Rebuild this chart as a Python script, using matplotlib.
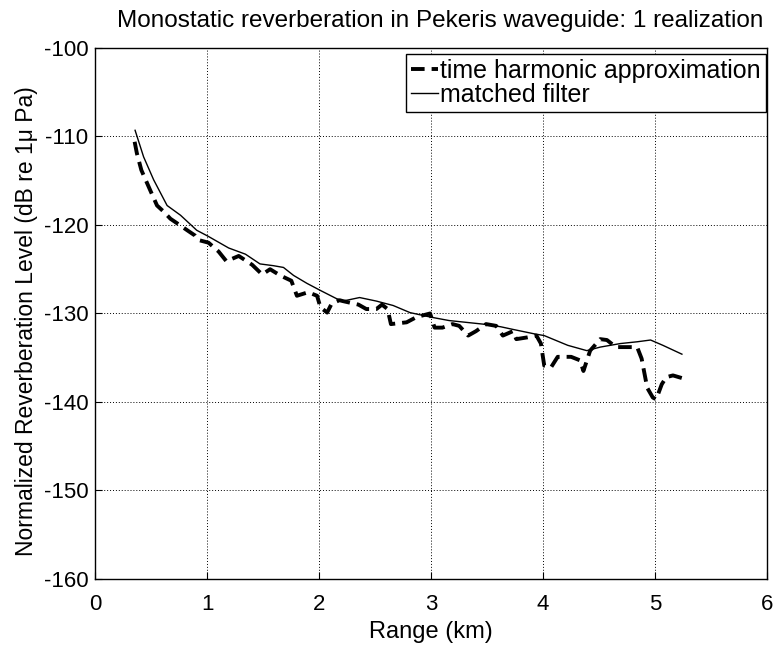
import matplotlib
matplotlib.use("Agg")
import matplotlib.pyplot as plt

plt.rcParams["font.family"] = ["Liberation Sans", "DejaVu Sans"]
plt.rcParams["axes.unicode_minus"] = False

# time harmonic approximation (dashed)
range_th = [0.35, 0.37, 0.41, 0.49, 0.55, 0.61, 0.67, 0.74, 0.82, 0.89, 0.92,
            1.01, 1.10, 1.17, 1.28, 1.40, 1.49, 1.56, 1.65, 1.75, 1.80, 1.90,
            1.98, 2.01, 2.07, 2.11, 2.18, 2.21, 2.35, 2.42, 2.51, 2.56, 2.61,
            2.64, 2.78, 2.87, 2.99, 3.03, 3.10, 3.19, 3.25, 3.33, 3.40, 3.49,
            3.58, 3.64, 3.73, 3.76, 3.86, 3.94, 3.98, 4.01, 4.07, 4.13, 4.25,
            4.33, 4.36, 4.42, 4.51, 4.57, 4.65, 4.75, 4.84, 4.88, 4.93, 4.98,
            5.01, 5.06, 5.10, 5.16, 5.24]
level_th = [-110.6, -111.9, -113.8, -116.1, -117.8, -118.5, -119.3, -119.9,
            -120.6, -121.2, -121.7, -122.0, -123.0, -124.1, -123.5, -124.5,
            -125.6, -125.0, -125.7, -126.3, -128.0, -127.6, -128.0, -129.3,
            -129.9, -128.9, -128.5, -128.6, -129.0, -129.5, -129.5, -129.0,
            -129.5, -131.2, -131.0, -130.4, -130.0, -131.6, -131.6, -131.2,
            -131.4, -132.5, -132.0, -131.2, -131.4, -132.5, -132.0, -132.9,
            -132.7, -132.5, -133.4, -135.9, -136.1, -134.9, -134.9, -135.3,
            -136.5, -134.2, -132.9, -133.0, -133.8, -133.8, -133.8, -135.1,
            -138.4, -139.5, -139.7, -138.0, -137.2, -137.0, -137.3]

# matched filter (solid)
range_mf = [0.354, 0.43, 0.52, 0.64, 0.76, 0.905, 1.01, 1.19, 1.34, 1.47,
            1.59, 1.68, 1.77, 1.89, 2.01, 2.15, 2.21, 2.36, 2.51, 2.66, 2.81,
            2.99, 3.16, 3.46, 3.62, 3.73, 3.92, 4.01, 4.22, 4.39, 4.51, 4.69,
            4.84, 4.96, 5.07, 5.24]
level_mf = [-109.3, -112.3, -114.9, -117.8, -118.9, -120.6, -121.3, -122.6,
            -123.3, -124.4, -124.6, -124.8, -125.7, -126.6, -127.4, -128.3,
            -128.6, -128.2, -128.6, -129.1, -129.9, -130.4, -130.8, -131.2,
            -131.5, -131.8, -132.3, -132.5, -133.6, -134.2, -133.8, -133.4,
            -133.2, -133.0, -133.6, -134.6]

fig = plt.figure(figsize=(7.73, 6.45), dpi=100)
ax = fig.add_axes([0.1235, 0.1024, 0.8687, 0.8232])

ax.plot(range_th, level_th, color="black", linewidth=2.8, linestyle=(0, (3.5, 1.8)),
        label="time harmonic approximation")
ax.plot(range_mf, level_mf, color="black", linewidth=1.0, label="matched filter")

ax.set_xlim(0, 6)
ax.set_ylim(-160, -100)
ax.set_xticks(range(0, 7))
ax.set_yticks(range(-160, -99, 10))
ax.grid(True, color="black", linestyle=(0, (1, 2)), linewidth=0.7)
ax.tick_params(direction="in", labelsize=16, length=5)
ax.tick_params(axis="x", pad=11)
ax.tick_params(axis="y", pad=5)
for s in ax.spines.values():
    s.set_linewidth(1.0)

ax.set_title("Monostatic reverberation in Pekeris waveguide: 1 realization",
             fontsize=17.5, pad=15, x=0.514)
ax.set_xlabel("Range (km)", fontsize=17, labelpad=4)
ax.set_ylabel("Normalized Reverberation Level (dB re 1\u03bc Pa)", fontsize=16.5)
ax.yaxis.set_label_coords(-0.086, 0.485)

leg = ax.legend(loc="upper right", bbox_to_anchor=(0.998, 0.989),
                borderaxespad=0, fontsize=18, handlelength=1.05,
                handletextpad=0.1, borderpad=0.2, fancybox=False,
                framealpha=1, edgecolor="black", labelspacing=0.0)
leg.get_frame().set_linewidth(1.0)

fig.savefig("out.png")
